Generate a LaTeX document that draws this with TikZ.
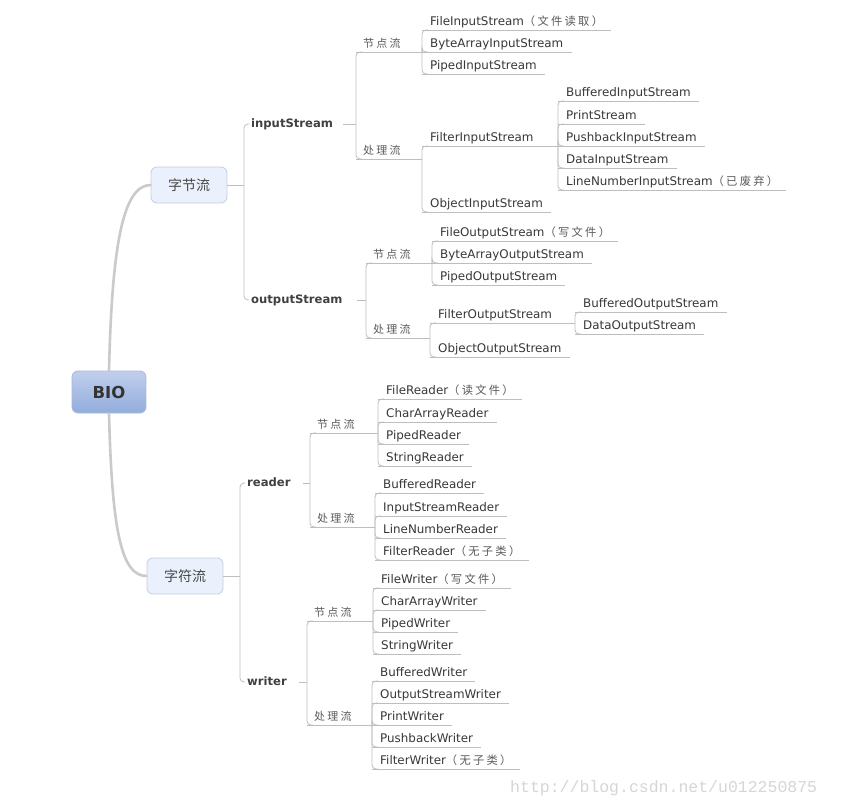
\documentclass[tikz,border=0pt]{standalone}
\usepackage{fontspec}
\setmainfont{DejaVu Sans}
\newfontfamily\cjkfont{Noto Sans CJK SC}
\newfontfamily\cjkspaced{Noto Sans CJK SC}[LetterSpace=20]
\newfontfamily\urlfont{Liberation Mono}
% Chinese run inside an English leaf label
\newcommand\cjkpart[1]{{\cjkspaced\fontsize{11.3}{13}\selectfont\color{cjkgray}#1}}

\definecolor{linkgray}{RGB}{190,190,190}
\definecolor{trunkgray}{RGB}{202,202,202}
\definecolor{leaftext}{RGB}{56,56,56}
\definecolor{cjkgray}{RGB}{90,90,90}
\definecolor{topicfill}{RGB}{234,241,252}
\definecolor{topicdraw}{RGB}{196,206,224}
\definecolor{biotop}{RGB}{192,207,236}
\definecolor{biobot}{RGB}{146,172,220}
\definecolor{biodraw}{RGB}{170,185,212}
\definecolor{marktext}{RGB}{214,214,214}

\tikzset{
  link/.style={draw=linkgray, line width=0.8pt, rounded corners=4pt},
  trunk/.style={draw=trunkgray, line width=2.6pt, line cap=round},
  leaf/.style={anchor=south west, inner xsep=8pt, inner ysep=1pt,
    text height=9pt, text depth=3pt, text=leaftext,
    font=\fontsize{11.9}{13}\selectfont},
  sublabel/.style={anchor=south west, inner xsep=7pt, inner ysep=1pt,
    text height=9pt, text depth=3pt, text=cjkgray,
    font={\cjkspaced\fontsize{11}{13}\selectfont}},
  grouplabel/.style={anchor=west, inner xsep=7pt, inner ysep=2pt,
    text height=9pt, text depth=3pt, text=black!75,
    font=\bfseries\fontsize{11.6}{13}\selectfont},
  topic/.style={rounded corners=6pt, fill=topicfill, draw=topicdraw,
    line width=0.8pt, minimum width=76pt, minimum height=36pt,
    text=black!72, font={\cjkfont\fontsize{14}{16}\selectfont}},
  rootbox/.style={rounded corners=6pt, top color=biotop, bottom color=biobot,
    draw=biodraw, line width=0.8pt, minimum width=74pt, minimum height=42pt,
    text=black!80, font=\bfseries\fontsize{16.5}{18}\selectfont},
}

\begin{document}
\begin{tikzpicture}[x=1pt, y=-1pt]
\fill[white] (0,0) rectangle (842,797);
\useasboundingbox (0,0) rectangle (842,797);

% ---------- root and main topics ----------
\node[rootbox] (bio) at (109,392) {BIO};
\node[topic] (byteT) at (189,185) {字节流};
\node[topic] (charT) at (185,576) {字符流};

\draw[trunk] (bio.north) .. controls (112,245) and (123,185) .. (byteT.west);
\draw[trunk] (bio.south) .. controls (112,530) and (121,576) .. (charT.west);

% ---------- junction points ----------
\coordinate (jByte) at (244,185);
\coordinate (jChar) at (240,576);
\coordinate (jIn)   at (356,124);
\coordinate (jOut)  at (366,300);
\coordinate (jRd)   at (310,483);
\coordinate (jWr)   at (307,682);
\coordinate (jInNd)  at (422,52);
\coordinate (jInPr)  at (422,159);
\coordinate (jOutNd) at (432,263);
\coordinate (jOutPr) at (430,338);
\coordinate (jRdNd)  at (378,433);
\coordinate (jRdPr)  at (375,527);
\coordinate (jWrNd)  at (373,621);
\coordinate (jWrPr)  at (372,725);
\coordinate (jFin)   at (558,146);
\coordinate (jFout)  at (575,323);

% ---------- stream groups ----------
\node[grouplabel] (inS)  at (244,124) {inputStream};
\node[grouplabel] (outS) at (244,300) {outputStream};
\node[grouplabel] (rdS)  at (240,483) {reader};
\node[grouplabel] (wrS)  at (240,682) {writer};

\draw[link] (byteT.east) -- (jByte);
\draw[link] (charT.east) -- (jChar);
\draw[link] (jByte) |- ([xshift=5pt]inS.west);
\draw[link] (jByte) |- ([xshift=5pt]outS.west);
\draw[link] (jChar) |- ([xshift=5pt]rdS.west);
\draw[link] (jChar) |- ([xshift=5pt]wrS.west);

\draw[link] ([xshift=3pt]inS.east) -- (jIn);
\draw[link] ([xshift=7pt]outS.east) -- (jOut);
\draw[link] ([xshift=5pt]rdS.east) -- (jRd);
\draw[link] ([xshift=5pt]wrS.east) -- (jWr);

% ---------- node / filter stream labels ----------
\node[sublabel] (inNd)  at (356,52)  {节点流};
\node[sublabel] (inPr)  at (356,159) {处理流};
\node[sublabel] (outNd) at (366,263) {节点流};
\node[sublabel] (outPr) at (366,338) {处理流};
\node[sublabel] (rdNd)  at (310,433) {节点流};
\node[sublabel] (rdPr)  at (310,527) {处理流};
\node[sublabel] (wrNd)  at (307,621) {节点流};
\node[sublabel] (wrPr)  at (307,725) {处理流};

\draw[link] (inNd.south west)  -- (jInNd);
\draw[link] (inPr.south west)  -- (jInPr);
\draw[link] (outNd.south west) -- (jOutNd);
\draw[link] (outPr.south west) -- (jOutPr);
\draw[link] (rdNd.south west)  -- (jRdNd);
\draw[link] (rdPr.south west)  -- (jRdPr);
\draw[link] (wrNd.south west)  -- (jWrNd);
\draw[link] (wrPr.south west)  -- (jWrPr);

\foreach \lab/\j in {inNd/jIn, inPr/jIn, outNd/jOut, outPr/jOut,
                     rdNd/jRd, rdPr/jRd, wrNd/jWr, wrPr/jWr}
  \draw[link] (\j) |- ([xshift=6pt]\lab.south west);

% ---------- InputStream classes ----------
\node[leaf] (fis)   at (422,30)  {FileInputStream\cjkpart{（文件读取）}};
\node[leaf] (bais)  at (422,52)  {ByteArrayInputStream};
\node[leaf] (pis)   at (422,74)  {PipedInputStream};
\node[leaf] (filis) at (422,146) {FilterInputStream};
\node[leaf] (ois)   at (422,212) {ObjectInputStream};
\node[leaf] (bis)   at (558,101) {BufferedInputStream};
\node[leaf] (ps)    at (558,124) {PrintStream};
\node[leaf] (pbis)  at (558,146) {PushbackInputStream};
\node[leaf] (dis)   at (558,168) {DataInputStream};
\node[leaf] (lnis)  at (558,190) {LineNumberInputStream\cjkpart{（已废弃）}};

% ---------- OutputStream classes ----------
\node[leaf] (fos)   at (432,241) {FileOutputStream\cjkpart{（写文件）}};
\node[leaf] (baos)  at (432,263) {ByteArrayOutputStream};
\node[leaf] (pos)   at (432,285) {PipedOutputStream};
\node[leaf] (filos) at (430,323) {FilterOutputStream};
\node[leaf] (oos)   at (430,357) {ObjectOutputStream};
\node[leaf] (bos)   at (575,312) {BufferedOutputStream};
\node[leaf] (dos)   at (575,334) {DataOutputStream};

% ---------- Reader classes ----------
\node[leaf] (fr)   at (378,399) {FileReader\cjkpart{（读文件）}};
\node[leaf] (car)  at (378,422) {CharArrayReader};
\node[leaf] (pr)   at (378,444) {PipedReader};
\node[leaf] (sr)   at (378,466) {StringReader};
\node[leaf] (br)   at (375,493) {BufferedReader};
\node[leaf] (isr)  at (375,516) {InputStreamReader};
\node[leaf] (lnr)  at (375,538) {LineNumberReader};
\node[leaf] (flr)  at (375,560) {FilterReader\cjkpart{（无子类）}};

% ---------- Writer classes ----------
\node[leaf] (fw)   at (373,588) {FileWriter\cjkpart{（写文件）}};
\node[leaf] (caw)  at (373,610) {CharArrayWriter};
\node[leaf] (pw)   at (373,632) {PipedWriter};
\node[leaf] (strw) at (373,654) {StringWriter};
\node[leaf] (bw)   at (372,681) {BufferedWriter};
\node[leaf] (osw)  at (372,703) {OutputStreamWriter};
\node[leaf] (prw)  at (372,725) {PrintWriter};
\node[leaf] (pbw)  at (372,747) {PushbackWriter};
\node[leaf] (flw)  at (372,769) {FilterWriter\cjkpart{（无子类）}};

% underlines of the leaf classes
\foreach \n in {fis,bais,pis,ois,bis,ps,pbis,dis,lnis,
                fos,baos,pos,oos,bos,dos,
                fr,car,pr,sr,br,isr,lnr,flr,
                fw,caw,pw,strw,bw,osw,prw,pbw,flw}
  \draw[link] (\n.south west) -- (\n.south east);

% filter classes run their underline out to their own sub-branch
\draw[link] (filis.south west) -- (jFin);
\draw[link] (filos.south west) -- (jFout);

% elbows from each junction to its children
\foreach \n in {fis,bais,pis}        \draw[link] (jInNd)  |- ([xshift=6pt]\n.south west);
\foreach \n in {filis,ois}           \draw[link] (jInPr)  |- ([xshift=6pt]\n.south west);
\foreach \n in {bis,ps,pbis,dis,lnis} \draw[link] (jFin)  |- ([xshift=6pt]\n.south west);
\foreach \n in {fos,baos,pos}        \draw[link] (jOutNd) |- ([xshift=6pt]\n.south west);
\foreach \n in {filos,oos}           \draw[link] (jOutPr) |- ([xshift=6pt]\n.south west);
\foreach \n in {bos,dos}             \draw[link] (jFout)  |- ([xshift=6pt]\n.south west);
\foreach \n in {fr,car,pr,sr}        \draw[link] (jRdNd)  |- ([xshift=6pt]\n.south west);
\foreach \n in {br,isr,lnr,flr}      \draw[link] (jRdPr)  |- ([xshift=6pt]\n.south west);
\foreach \n in {fw,caw,pw,strw}      \draw[link] (jWrNd)  |- ([xshift=6pt]\n.south west);
\foreach \n in {bw,osw,prw,pbw,flw}  \draw[link] (jWrPr)  |- ([xshift=6pt]\n.south west);

% blog address
\node[anchor=west, inner sep=0pt, text=marktext,
      font={\urlfont\fontsize{16.5}{18}\selectfont}] (blog) at (510,788)
  {http://blog.csdn.net/u012250875};
\end{tikzpicture}
\end{document}
